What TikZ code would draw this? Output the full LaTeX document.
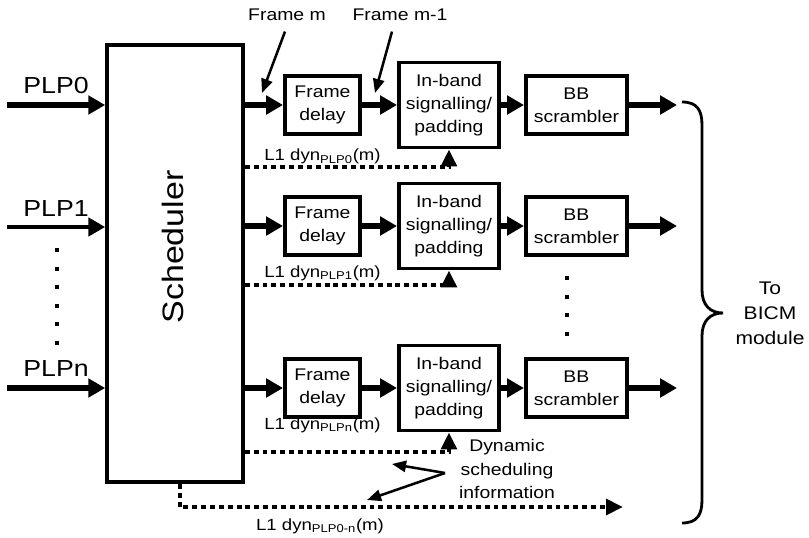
\documentclass[tikz,border=0pt]{standalone}
\usepackage{fontspec}
\setmainfont{Liberation Sans}[FakeStretch=1.15]
\usetikzlibrary{arrows.meta,positioning,calc}
\tikzset{>=Stealth}

\begin{document}
\begin{tikzpicture}[
    x=0.025cm, y=-0.025cm,
    box/.style={draw, line width=2.8pt, align=center, inner sep=0pt, font=\fontsize{12}{16.5}\selectfont},
    fdbox/.style={box, minimum width=1.875cm, minimum height=1.45cm},
    ibbox/.style={box, minimum width=2.5cm, minimum height=2.125cm},
    bbbox/.style={box, minimum width=2.525cm, minimum height=1.45cm},
    flow/.style={line width=4.2pt, -{Triangle[length=12pt,width=13pt]}},
    dyn/.style={line width=2.8pt, dash pattern=on 3.5pt off 2.8pt, -{Triangle[length=12pt,width=11pt]}},
    ptr/.style={line width=1.8pt, -{Triangle[length=10pt,width=8pt]}},
    plp/.style={font=\fontsize{16.5}{19}\selectfont, inner sep=1pt},
    dynlbl/.style={font=\fontsize{11.5}{13}\selectfont, inner sep=0pt, anchor=base},
    note/.style={font=\fontsize{12}{17}\selectfont, align=center, inner sep=1pt},
    vdots/.style={line width=3pt, dash pattern=on 3pt off 10.2pt},
    node distance=0.875cm
  ]
    \useasboundingbox (0,0) rectangle (809,538);

    % scheduler
    \node[draw, line width=2.6pt, minimum width=3.4cm, minimum height=10.925cm] (sched) at (175,263.5) {};
    \node[rotate=90, font=\fontsize{21}{24}\selectfont] (schedtxt) at (173,247) {Scheduler};

    % inputs
    \coordinate (in0) at (7,105);
    \coordinate (in1) at (7,227);
    \coordinate (inn) at (7,388);
    \draw[flow] (in0) -- (in0 -| sched.west) node[plp, midway, above=5pt] {PLP0};
    \draw[flow, line width=2.8pt] (in1) -- (in1 -| sched.west) node[plp, midway, above=5pt] {PLP1};
    \draw[flow] (inn) -- (inn -| sched.west) node[plp, midway, above=5pt] {PLPn};
    \draw[vdots] (57,248) -- (57,346);

    % row 0
    \node[fdbox] (fd0) at (322.5,105) {Frame\\delay};
    \node[ibbox, right=of fd0] (ib0) {In-band\\signalling/\\padding};
    \node[bbbox, right=0.575cm of ib0] (bb0) {BB\\scrambler};
    \coordinate (out0) at (677,105);
    \draw[flow] (sched.east |- fd0) -- (fd0);
    \draw[flow] (fd0) -- (ib0);
    \draw[flow] (ib0) -- (bb0);
    \draw[flow] (bb0) -- (out0);
    \coordinate (d0) at (445,167);
    \draw[dyn] (sched.east |- d0) -| (ib0.south);
    \node[dynlbl] (l0) at (322.5,161) {L1 dyn\textsubscript{PLP0}(m)};

    % row 1
    \node[fdbox] (fd1) at (322.5,226) {Frame\\delay};
    \node[ibbox, right=of fd1] (ib1) {In-band\\signalling/\\padding};
    \node[bbbox, right=0.575cm of ib1] (bb1) {BB\\scrambler};
    \coordinate (out1) at (677,226);
    \draw[flow] (sched.east |- fd1) -- (fd1);
    \draw[flow] (fd1) -- (ib1);
    \draw[flow] (ib1) -- (bb1);
    \draw[flow] (bb1) -- (out1);
    \coordinate (d1) at (445,285);
    \draw[dyn] (sched.east |- d1) -| (ib1.south);
    \node[dynlbl] (l1) at (322.5,277) {L1 dyn\textsubscript{PLP1}(m)};
    \draw[vdots] (567,276) -- (567,337);

    % row n
    \node[fdbox] (fdn) at (322.5,388) {Frame\\delay};
    \node[ibbox, right=of fdn] (ibn) {In-band\\signalling/\\padding};
    \node[bbbox, right=0.575cm of ibn] (bbn) {BB\\scrambler};
    \coordinate (outn) at (677,388);
    \draw[flow] (sched.east |- fdn) -- (fdn);
    \draw[flow] (fdn) -- (ibn);
    \draw[flow] (ibn) -- (bbn);
    \draw[flow] (bbn) -- (outn);
    \coordinate (dn) at (445,452);
    \draw[dyn] (sched.east |- dn) -| (ibn.south);
    \node[dynlbl] (ln) at (322.5,429) {L1 dyn\textsubscript{PLPn}(m)};

    % common dynamic info
    \coordinate (allend) at (623,507);
    \draw[dyn] ([xshift=1.25mm]sched.south) |- (allend);
    \node[dynlbl] (lall) at (320,530) {L1 dyn\textsubscript{PLP0-n}(m)};

    % frame pointers
    \node[note] (fm) at (287,15) {Frame m};
    \node[note] (fm1) at (400,15) {Frame m-1};
    \coordinate (fmtip) at (262,93);
    \coordinate (fm1tip) at (375,93);
    \draw[ptr] ($(fm.south)+(-2,9)$) -- (fmtip);
    \draw[ptr] ($(fm1.south)+(-8,9)$) -- (fm1tip);

    % dynamic scheduling information
    \node[note] (dsi) at (507,469) {Dynamic\\scheduling\\information};
    \coordinate (dsifork) at (445,473);
    \coordinate (dsitip1) at (392,464);
    \coordinate (dsitip2) at (367,500);
    \draw[ptr] (dsifork) -- (dsitip1);
    \draw[ptr] (dsifork) -- (dsitip2);

    % brace and destination
    \draw[line width=2pt] (682,102) .. controls (697,102) and (702,110) .. (702,125) -- (702,290)
      .. controls (702,305) and (710,313) .. (723,313) .. controls (710,313) and (702,321) .. (702,336)
      -- (702,500) .. controls (702,515) and (697,523) .. (682,523);
    \node[note, font=\fontsize{13}{17.8}\selectfont] (bicm) at (770,313) {To\\BICM\\module};
  \end{tikzpicture}
\end{document}
